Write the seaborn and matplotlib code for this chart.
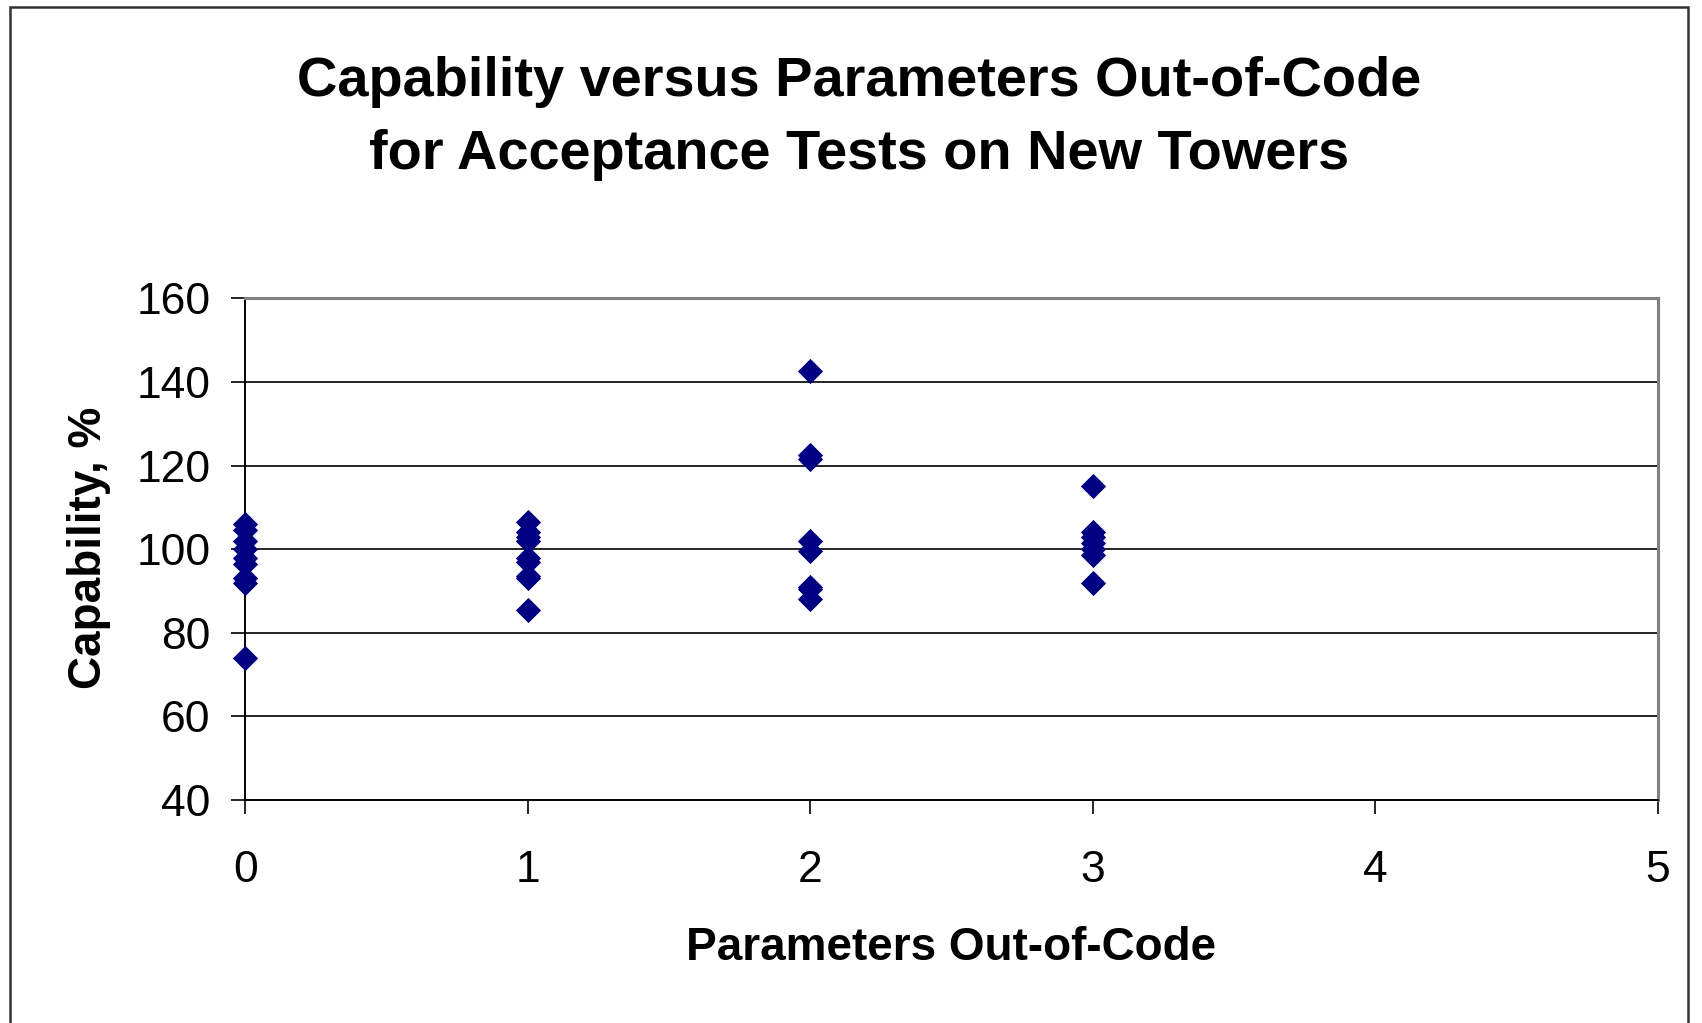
# -*- coding: utf-8 -*-
# Capability vs parameters out-of-code, scatter of acceptance tests
import matplotlib
matplotlib.use("Agg")
import matplotlib.pyplot as plt
import seaborn as sns
import pandas as pd
from matplotlib.patches import Rectangle

# %% data
out_of_code = [0, 0, 0, 0, 0, 0, 0, 0, 0,
               1, 1, 1, 1, 1, 1, 1, 1, 1,
               2, 2, 2, 2, 2, 2, 2, 2,
               3, 3, 3, 3, 3, 3, 3]
capability = [106, 104.5, 102, 100, 98, 96.5, 93, 92, 74,
              106.5, 104, 103, 102, 98, 97, 93.5, 93, 85.5,
              142.5, 122.5, 121.5, 102, 99.5, 91, 90.5, 88,
              115, 104, 103, 101.5, 100, 98.5, 92]
x_ticks = [0, 1, 2, 3, 4, 5]
y_ticks = [40, 60, 80, 100, 120, 140, 160]

data = pd.DataFrame({"params": out_of_code, "capability": capability})

# %% plotting
sns.set_style("white")
plt.rcParams["font.family"] = ["Liberation Sans", "DejaVu Sans"]
plt.rcParams["text.color"] = "black"
plt.rcParams["xtick.color"] = "black"
plt.rcParams["ytick.color"] = "black"

fig = plt.figure(figsize=(17.02, 10.23), dpi=100)
ax = fig.add_axes([0.1441, 0.218, 0.8299, 0.4904])

for y in y_ticks[1:-1]:
    ax.axhline(y, color="black", lw=1.2, zorder=0)

sns.scatterplot(data=data, x="params", y="capability", marker="D",
                color="#000080", s=165, linewidth=0, ax=ax, zorder=3,
                clip_on=False)

ax.set_xlim(0, 5)
ax.set_ylim(40, 160)
ax.set_xticks(x_ticks)
ax.set_yticks(y_ticks)
ax.tick_params(axis="both", direction="out", length=10, width=1.2,
               color="black", labelcolor="black", labelsize=32,
               left=True, bottom=True)
ax.tick_params(axis="x", pad=26)
ax.tick_params(axis="y", pad=15)

for side in ["top", "right"]:
    ax.spines[side].set_color("#808080")
    ax.spines[side].set_linewidth(2.2)
for side in ["left", "bottom"]:
    ax.spines[side].set_color("black")
    ax.spines[side].set_linewidth(1.4)

ax.set_xlabel("")
ax.set_ylabel("")
fig.text(951 / 1702, 1 - 948 / 1023, "Parameters Out-of-Code", ha="center",
         va="center", fontsize=33, fontweight="bold")
fig.text(89 / 1702, 1 - 548 / 1023, "Capability, %", ha="center",
         va="center", rotation=90, fontsize=33, fontweight="bold")
fig.text(0.505, 1 - 82 / 1023, "Capability versus Parameters Out-of-Code",
         ha="center", va="center", fontsize=40.3, fontweight="bold")
fig.text(0.505, 1 - 155 / 1023, "for Acceptance Tests on New Towers",
         ha="center", va="center", fontsize=40.3, fontweight="bold")

# outer chart frame
fig.patches.append(Rectangle((10 / 1702, -0.05), (1688 - 10) / 1702,
                             1 - 7 / 1023 + 0.05, transform=fig.transFigure,
                             fill=False, edgecolor="#333333", lw=1.8))

plt.savefig("out.png", dpi=100)
